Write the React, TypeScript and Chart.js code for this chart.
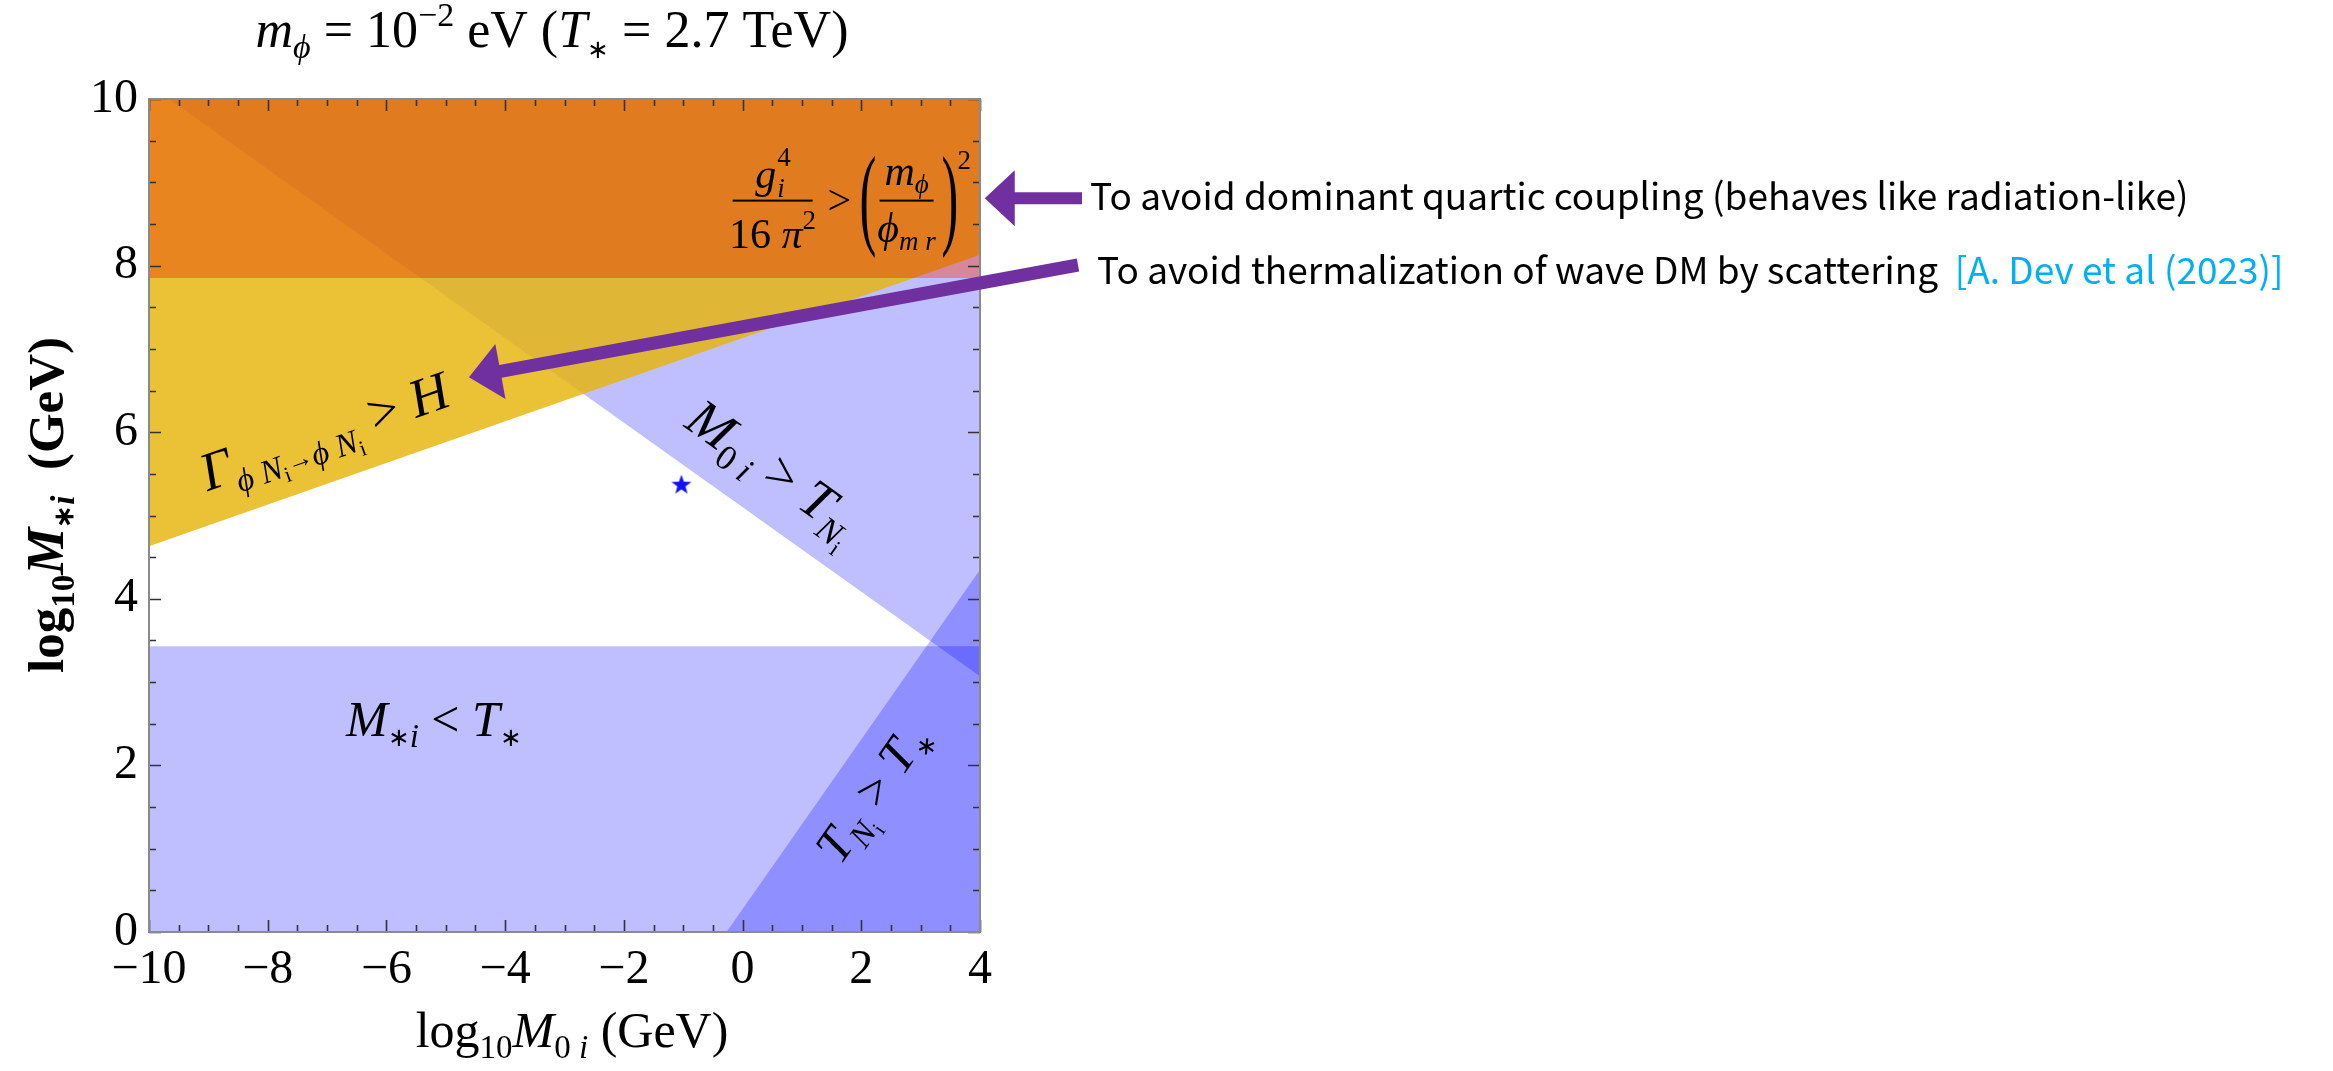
import { useEffect, useRef } from "react";
import { Chart, registerables } from "chart.js";

Chart.register(...registerables);

const CANVAS_W = 2333;
const CANVAS_H = 1071;

// axes (log10 of masses in GeV)
const xMin = -10;
const xMax = 4;
const yMin = 0;
const yMax = 10;
const xTickValues = [-10, -8, -6, -4, -2, 0, 2, 4];
const yTickValues = [0, 2, 4, 6, 8, 10];
const minorStep = 0.5;

// constraint boundaries
const tStarLog = 3.43; // M*i < T*, T* = 2.7 TeV
const quarticFloor = 7.85; // g^4/16pi^2 > (m_phi/phi_mr)^2
const gammaEdgeX = [-10, 4]; // Gamma_{phi N -> phi N} > H
const gammaEdgeY = [4.63, 8.13];
const m0EdgeX = [-9.66, 4]; // M0i > T_Ni
const m0EdgeY = [10, 3.07];
const tnEdgeX = [-0.27, 4]; // T_Ni > T*
const tnEdgeY = [0, 4.35];

// benchmark point
const benchmarkX = [-1.03];
const benchmarkY = [5.37];

// annotation arrow tips (data units)
const arrowTipX = [4.08, -4.61];
const arrowTipY = [8.81, 6.66];

const SERIF = '"Liberation Serif", "Times New Roman", serif';
const SANS = '"Noto Sans CJK KR", "Noto Sans", sans-serif';
const PURPLE = "#7030A0";

type Pt = { x: number; y: number };
const pts = (xs: number[], ys: number[]): Pt[] => xs.map((x, i) => ({ x, y: ys[i] }));
const lineYAt = (xs: number[], ys: number[], x: number) =>
  ys[0] + ((ys[1] - ys[0]) * (x - xs[0])) / (xs[1] - xs[0]);
const lineXAt = (xs: number[], ys: number[], y: number) =>
  xs[0] + ((xs[1] - xs[0]) * (y - ys[0])) / (ys[1] - ys[0]);

// region polygons
const mStarBand = pts([xMin, xMax, xMax, xMin], [yMin, yMin, tStarLog, tStarLog]);
const m0Region = pts([m0EdgeX[0], xMax, m0EdgeX[1]], [m0EdgeY[0], yMax, m0EdgeY[1]]);
const tnRegion = pts([tnEdgeX[0], xMax, tnEdgeX[1]], [tnEdgeY[0], yMin, tnEdgeY[1]]);
const gammaRegion = pts(
  [gammaEdgeX[0], gammaEdgeX[1], xMax, xMin],
  [gammaEdgeY[0], gammaEdgeY[1], yMax, yMax]
);
const quarticBand = pts([xMin, xMax, xMax, xMin], [quarticFloor, quarticFloor, yMax, yMax]);
const quarticLeft = pts(
  [xMin, lineXAt(m0EdgeX, m0EdgeY, quarticFloor), m0EdgeX[0], xMin],
  [quarticFloor, quarticFloor, m0EdgeY[0], yMax]
);
const quarticNoGamma = pts(
  [lineXAt(gammaEdgeX, gammaEdgeY, quarticFloor), xMax, xMax],
  [quarticFloor, quarticFloor, lineYAt(gammaEdgeX, gammaEdgeY, xMax)]
);

type Seg = { t: string; s: number; f?: string; dy?: number; c?: string; fam?: string };

const fontOf = (g: Seg) => `${g.f ?? ""} ${g.s}px ${g.fam ?? SERIF}`.trim();

function runWidth(ctx: CanvasRenderingContext2D, segs: Seg[]) {
  let w = 0;
  for (const g of segs) {
    ctx.font = fontOf(g);
    w += ctx.measureText(g.t).width;
  }
  return w;
}

function drawRun(ctx: CanvasRenderingContext2D, segs: Seg[], x: number, y: number) {
  let cx = x;
  for (const g of segs) {
    ctx.font = fontOf(g);
    ctx.fillStyle = g.c ?? "#000";
    ctx.fillText(g.t, cx, y + (g.dy ?? 0));
    cx += ctx.measureText(g.t).width;
  }
  return cx;
}

function drawRunAt(
  ctx: CanvasRenderingContext2D,
  segs: Seg[],
  cx: number,
  cy: number,
  angle: number,
  baseShift: number,
  align: "center" | "left" = "center"
) {
  ctx.save();
  ctx.translate(cx, cy);
  ctx.rotate(angle);
  ctx.textAlign = "left";
  ctx.textBaseline = "alphabetic";
  const w = runWidth(ctx, segs);
  drawRun(ctx, segs, align === "center" ? -w / 2 : 0, baseShift);
  ctx.restore();
}

function drawArrow(
  ctx: CanvasRenderingContext2D,
  tx: number,
  ty: number,
  hx: number,
  hy: number,
  shaft: number,
  headLen: number,
  headW: number
) {
  const len = Math.hypot(hx - tx, hy - ty);
  const dx = (hx - tx) / len;
  const dy = (hy - ty) / len;
  const nx = -dy;
  const ny = dx;
  const bx = hx - dx * headLen;
  const by = hy - dy * headLen;
  ctx.save();
  ctx.fillStyle = PURPLE;
  ctx.beginPath();
  ctx.moveTo(tx + (nx * shaft) / 2, ty + (ny * shaft) / 2);
  ctx.lineTo(bx + (nx * shaft) / 2, by + (ny * shaft) / 2);
  ctx.lineTo(bx + (nx * headW) / 2, by + (ny * headW) / 2);
  ctx.lineTo(hx, hy);
  ctx.lineTo(bx - (nx * headW) / 2, by - (ny * headW) / 2);
  ctx.lineTo(bx - (nx * shaft) / 2, by - (ny * shaft) / 2);
  ctx.lineTo(tx - (nx * shaft) / 2, ty - (ny * shaft) / 2);
  ctx.closePath();
  ctx.fill();
  ctx.restore();
}

const fmtTick = (v: number) => (v < 0 ? "\u2212" + Math.abs(v) : String(v));

// frame with inward ticks on all four sides
const frameTicks = {
  id: "frameTicks",
  afterDatasetsDraw(chart: any) {
    const { ctx, chartArea: a, scales } = chart;
    const sx = scales.x;
    const sy = scales.y;
    ctx.save();
    ctx.strokeStyle = "#333";
    ctx.lineWidth = 1.6;
    ctx.beginPath();
    for (let v = xMin; v <= xMax + 1e-9; v += minorStep) {
      const px = Math.round(sx.getPixelForValue(v)) + 0.5;
      const len = xTickValues.includes(v) ? 12 : 7;
      ctx.moveTo(px, a.bottom);
      ctx.lineTo(px, a.bottom - len);
      ctx.moveTo(px, a.top);
      ctx.lineTo(px, a.top + len);
    }
    for (let v = yMin; v <= yMax + 1e-9; v += minorStep) {
      const py = Math.round(sy.getPixelForValue(v)) + 0.5;
      const len = yTickValues.includes(v) ? 12 : 7;
      ctx.moveTo(a.left, py);
      ctx.lineTo(a.left + len, py);
      ctx.moveTo(a.right, py);
      ctx.lineTo(a.right - len, py);
    }
    ctx.stroke();
    ctx.strokeStyle = "#8a8a8a";
    ctx.lineWidth = 2;
    ctx.strokeRect(a.left, a.top, a.right - a.left, a.bottom - a.top);
    ctx.restore();
  },
};

// titles, region labels and side notes
const annotations = {
  id: "annotations",
  afterDraw(chart: any) {
    const { ctx, scales } = chart;
    const sx = scales.x;
    const sy = scales.y;
    const P = (x: number, y: number) => [sx.getPixelForValue(x), sy.getPixelForValue(y)];
    const edgeAngle = (xs: number[], ys: number[]) => {
      const [x0, y0] = P(xs[0], ys[0]);
      const [x1, y1] = P(xs[1], ys[1]);
      return Math.atan2(y1 - y0, x1 - x0);
    };

    ctx.save();

    // plot title
    drawRunAt(
      ctx,
      [
        { t: "m", s: 52, f: "italic" },
        { t: "\u03d5", s: 34, f: "italic", dy: 11 },
        { t: " = 10", s: 52 },
        { t: "\u22122", s: 34, dy: -21 },
        { t: " eV (", s: 52 },
        { t: "T", s: 52, f: "italic" },
        { t: "\u2217", s: 26, dy: 11 },
        { t: " = 2.7 TeV)", s: 52 },
      ],
      552,
      47,
      0,
      0
    );

    // axis titles
    drawRunAt(
      ctx,
      [
        { t: "log", s: 50 },
        { t: "10", s: 33, dy: 11 },
        { t: "M", s: 50, f: "italic" },
        { t: "0", s: 33, dy: 11 },
        { t: " i", s: 33, f: "italic", dy: 11 },
        { t: " (GeV)", s: 50 },
      ],
      572,
      1047,
      0,
      0
    );
    drawRunAt(
      ctx,
      [
        { t: "log", s: 51, f: "bold" },
        { t: "10", s: 33, f: "bold", dy: 11 },
        { t: "M", s: 53, f: "italic bold" },
        { t: "\u2217", s: 27, f: "bold", dy: 10 },
        { t: "i", s: 33, f: "italic bold", dy: 11 },
        { t: "  (GeV)", s: 51, f: "bold" },
      ],
      63,
      505,
      -Math.PI / 2,
      0
    );

    // Gamma > H label along its boundary
    {
      const [cx, cy] = P(-7.04, 6.0);
      drawRunAt(
        ctx,
        [
          { t: "\u0393", s: 54, f: "italic" },
          { t: "\u03d5 ", s: 33, f: "italic", dy: 12 },
          { t: "N", s: 33, f: "italic", dy: 12 },
          { t: "i", s: 22, dy: 18 },
          { t: "\u2192", s: 26, dy: 9 },
          { t: "\u03d5 ", s: 33, f: "italic", dy: 12 },
          { t: "N", s: 33, f: "italic", dy: 12 },
          { t: "i", s: 22, dy: 18 },
          { t: " > ", s: 54 },
          { t: "H", s: 54, f: "italic" },
        ],
        cx,
        cy,
        edgeAngle(gammaEdgeX, gammaEdgeY),
        17
      );
    }

    // M0i > T_Ni label
    {
      const [cx, cy] = P(0.52, 5.55);
      drawRunAt(
        ctx,
        [
          { t: "M", s: 54, f: "italic" },
          { t: "0", s: 35, dy: 12 },
          { t: " i", s: 35, f: "italic", dy: 12 },
          { t: " > ", s: 54 },
          { t: "T", s: 54, f: "italic" },
          { t: "N", s: 35, f: "italic", dy: 12 },
          { t: "i", s: 23, dy: 19 },
        ],
        cx,
        cy,
        edgeAngle(m0EdgeX, m0EdgeY),
        17
      );
    }

    // M*i < T* label
    {
      const [cx, cy] = P(-5.2, 2.55);
      drawRunAt(
        ctx,
        [
          { t: "M", s: 50, f: "italic" },
          { t: "\u2217", s: 26, dy: 10 },
          { t: "i", s: 33, f: "italic", dy: 11 },
          { t: " < ", s: 50 },
          { t: "T", s: 50, f: "italic" },
          { t: "\u2217", s: 26, dy: 10 },
        ],
        cx,
        cy,
        0,
        16
      );
    }

    // T_Ni > T* label
    {
      const [cx, cy] = P(2.19, 1.68);
      drawRunAt(
        ctx,
        [
          { t: "T", s: 50, f: "italic" },
          { t: "N", s: 33, f: "italic", dy: 11 },
          { t: "i", s: 21, dy: 17 },
          { t: " > ", s: 50 },
          { t: "T", s: 50, f: "italic" },
          { t: "\u2217", s: 26, dy: 10 },
        ],
        cx,
        cy,
        edgeAngle(tnEdgeX, tnEdgeY),
        16
      );
    }

    // quartic coupling condition as a stacked fraction
    {
      const [fx, fy] = P(1.82, 8.78);
      ctx.save();
      ctx.translate(fx, fy);
      ctx.fillStyle = "#000";
      ctx.textBaseline = "alphabetic";
      ctx.textAlign = "left";
      // left fraction
      ctx.fillRect(-118, -1, 80, 2);
      ctx.font = `italic 42px ${SERIF}`;
      const gW = ctx.measureText("g").width;
      ctx.font = `27px ${SERIF}`;
      const supW = ctx.measureText("4").width;
      const numW = gW + supW;
      const nx = -78 - numW / 2;
      ctx.font = `italic 42px ${SERIF}`;
      ctx.fillText("g", nx, -13);
      ctx.font = `27px ${SERIF}`;
      ctx.fillText("4", nx + gW + 1, -35);
      ctx.font = `italic 27px ${SERIF}`;
      ctx.fillText("i", nx + gW + 1, -4);
      const den: Seg[] = [
        { t: "16", s: 42 },
        { t: " \u03c0", s: 42, f: "italic" },
        { t: "2", s: 27, dy: -19 },
      ];
      drawRun(ctx, den, -78 - runWidth(ctx, den) / 2, 47);
      // relation sign
      ctx.font = `42px ${SERIF}`;
      ctx.fillText(">", -23, 13);
      // parentheses
      ctx.save();
      ctx.font = `112px ${SERIF}`;
      ctx.translate(9, 33);
      ctx.scale(0.45, 1);
      ctx.fillText("(", 0, 0);
      ctx.restore();
      ctx.save();
      ctx.font = `112px ${SERIF}`;
      ctx.translate(91, 33);
      ctx.scale(0.45, 1);
      ctx.fillText(")", 0, 0);
      ctx.restore();
      // inner fraction
      ctx.fillRect(29, -1, 54, 2);
      const inNum: Seg[] = [
        { t: "m", s: 42, f: "italic" },
        { t: "\u03d5", s: 27, f: "italic", dy: 8 },
      ];
      drawRun(ctx, inNum, 56 - runWidth(ctx, inNum) / 2, -16);
      const inDen: Seg[] = [
        { t: "\u03d5", s: 42, f: "italic" },
        { t: "m r", s: 27, f: "italic", dy: 8 },
      ];
      drawRun(ctx, inDen, 56 - runWidth(ctx, inDen) / 2, 41);
      ctx.font = `27px ${SERIF}`;
      ctx.fillText("2", 107, -32);
      ctx.restore();
    }

    // side notes and arrows
    const note1: Seg[] = [
      { t: "To avoid dominant quartic coupling (behaves like radiation-like)", s: 37, fam: SANS },
    ];
    const note2: Seg[] = [
      { t: "To avoid thermalization of wave DM by scattering  ", s: 37, fam: SANS },
      { t: "[A. Dev et al (2023)]", s: 37, fam: SANS, c: "#00B0F0" },
    ];
    ctx.textAlign = "left";
    ctx.textBaseline = "alphabetic";
    drawRun(ctx, note1, 1090, 210);
    drawRun(ctx, note2, 1097, 284);

    const [t1x, t1y] = P(arrowTipX[0], arrowTipY[0]);
    drawArrow(ctx, 1082, t1y, t1x, t1y, 12, 30, 56);
    const [t2x, t2y] = P(arrowTipX[1], arrowTipY[1]);
    drawArrow(ctx, 1078, 265, t2x, t2y, 13, 32, 56);

    ctx.restore();
  },
};

function makeStar(): HTMLCanvasElement {
  const c = document.createElement("canvas");
  c.width = 22;
  c.height = 22;
  const g = c.getContext("2d")!;
  g.fillStyle = "#1414F0";
  g.beginPath();
  for (let i = 0; i < 10; i++) {
    const r = i % 2 === 0 ? 10.5 : 4.3;
    const a = -Math.PI / 2 + (i * Math.PI) / 5;
    const x = 11 + r * Math.cos(a);
    const y = 11.5 + r * Math.sin(a);
    if (i === 0) g.moveTo(x, y);
    else g.lineTo(x, y);
  }
  g.closePath();
  g.fill();
  return c;
}

const region = (data: Pt[], color: string, order: number) => ({
  data,
  backgroundColor: color,
  borderColor: "transparent",
  borderWidth: 0,
  pointRadius: 0,
  fill: "shape",
  order,
});

export default function App() {
  const ref = useRef<HTMLCanvasElement>(null);

  useEffect(() => {
    const canvas = ref.current;
    if (!canvas) return;
    const star = makeStar();
    const chart = new Chart(canvas, {
      type: "line",
      data: {
        datasets: [
          {
            data: pts(benchmarkX, benchmarkY),
            showLine: false,
            pointStyle: star as any,
            pointRadius: 10,
            borderColor: "transparent",
            backgroundColor: "#1414F0",
            order: 0,
          } as any,
          region(quarticNoGamma, "#D6879A", 1),
          region(quarticLeft, "#E8851F", 2),
          region(quarticBand, "#E07B20", 3),
          region(gammaRegion, "rgba(230,180,7,0.81)", 4),
          region(tnRegion, "rgba(0,0,255,0.25)", 5),
          region(m0Region, "rgba(0,0,255,0.25)", 6),
          region(mStarBand, "rgba(0,0,255,0.25)", 7),
        ],
      },
      options: {
        responsive: false,
        animation: false,
        events: [],
        layout: { padding: { left: 0, top: 99, right: CANVAS_W - 980, bottom: 0 } },
        plugins: {
          legend: { display: false },
          tooltip: { enabled: false },
          title: { display: false },
        },
        scales: {
          x: {
            type: "linear",
            min: xMin,
            max: xMax,
            grid: { display: false, drawTicks: false },
            border: { display: false },
            afterBuildTicks: (s: any) => {
              s.ticks = xTickValues.map((value) => ({ value }));
            },
            afterFit: (s: any) => {
              s.height = CANVAS_H - 932;
            },
            ticks: {
              autoSkip: false,
              maxRotation: 0,
              padding: 10,
              color: "#000",
              font: { family: SERIF, size: 48 },
              callback: (v: any) => fmtTick(Number(v)),
            },
          },
          y: {
            type: "linear",
            min: yMin,
            max: yMax,
            grid: { display: false, drawTicks: false },
            border: { display: false },
            afterBuildTicks: (s: any) => {
              s.ticks = yTickValues.map((value) => ({ value }));
            },
            afterFit: (s: any) => {
              s.width = 149;
            },
            ticks: {
              autoSkip: false,
              padding: 11,
              color: "#000",
              font: { family: SERIF, size: 48 },
              callback: (v: any) => fmtTick(Number(v)),
            },
          },
        },
      } as any,
      plugins: [frameTicks, annotations],
    });
    return () => chart.destroy();
  }, []);

  return (
    <div
      style={{
        position: "fixed",
        left: 0,
        top: 0,
        width: CANVAS_W,
        height: CANVAS_H,
        background: "#fff",
      }}
    >
      <canvas
        ref={ref}
        width={CANVAS_W}
        height={CANVAS_H}
        style={{ width: CANVAS_W, height: CANVAS_H, display: "block" }}
      />
    </div>
  );
}
